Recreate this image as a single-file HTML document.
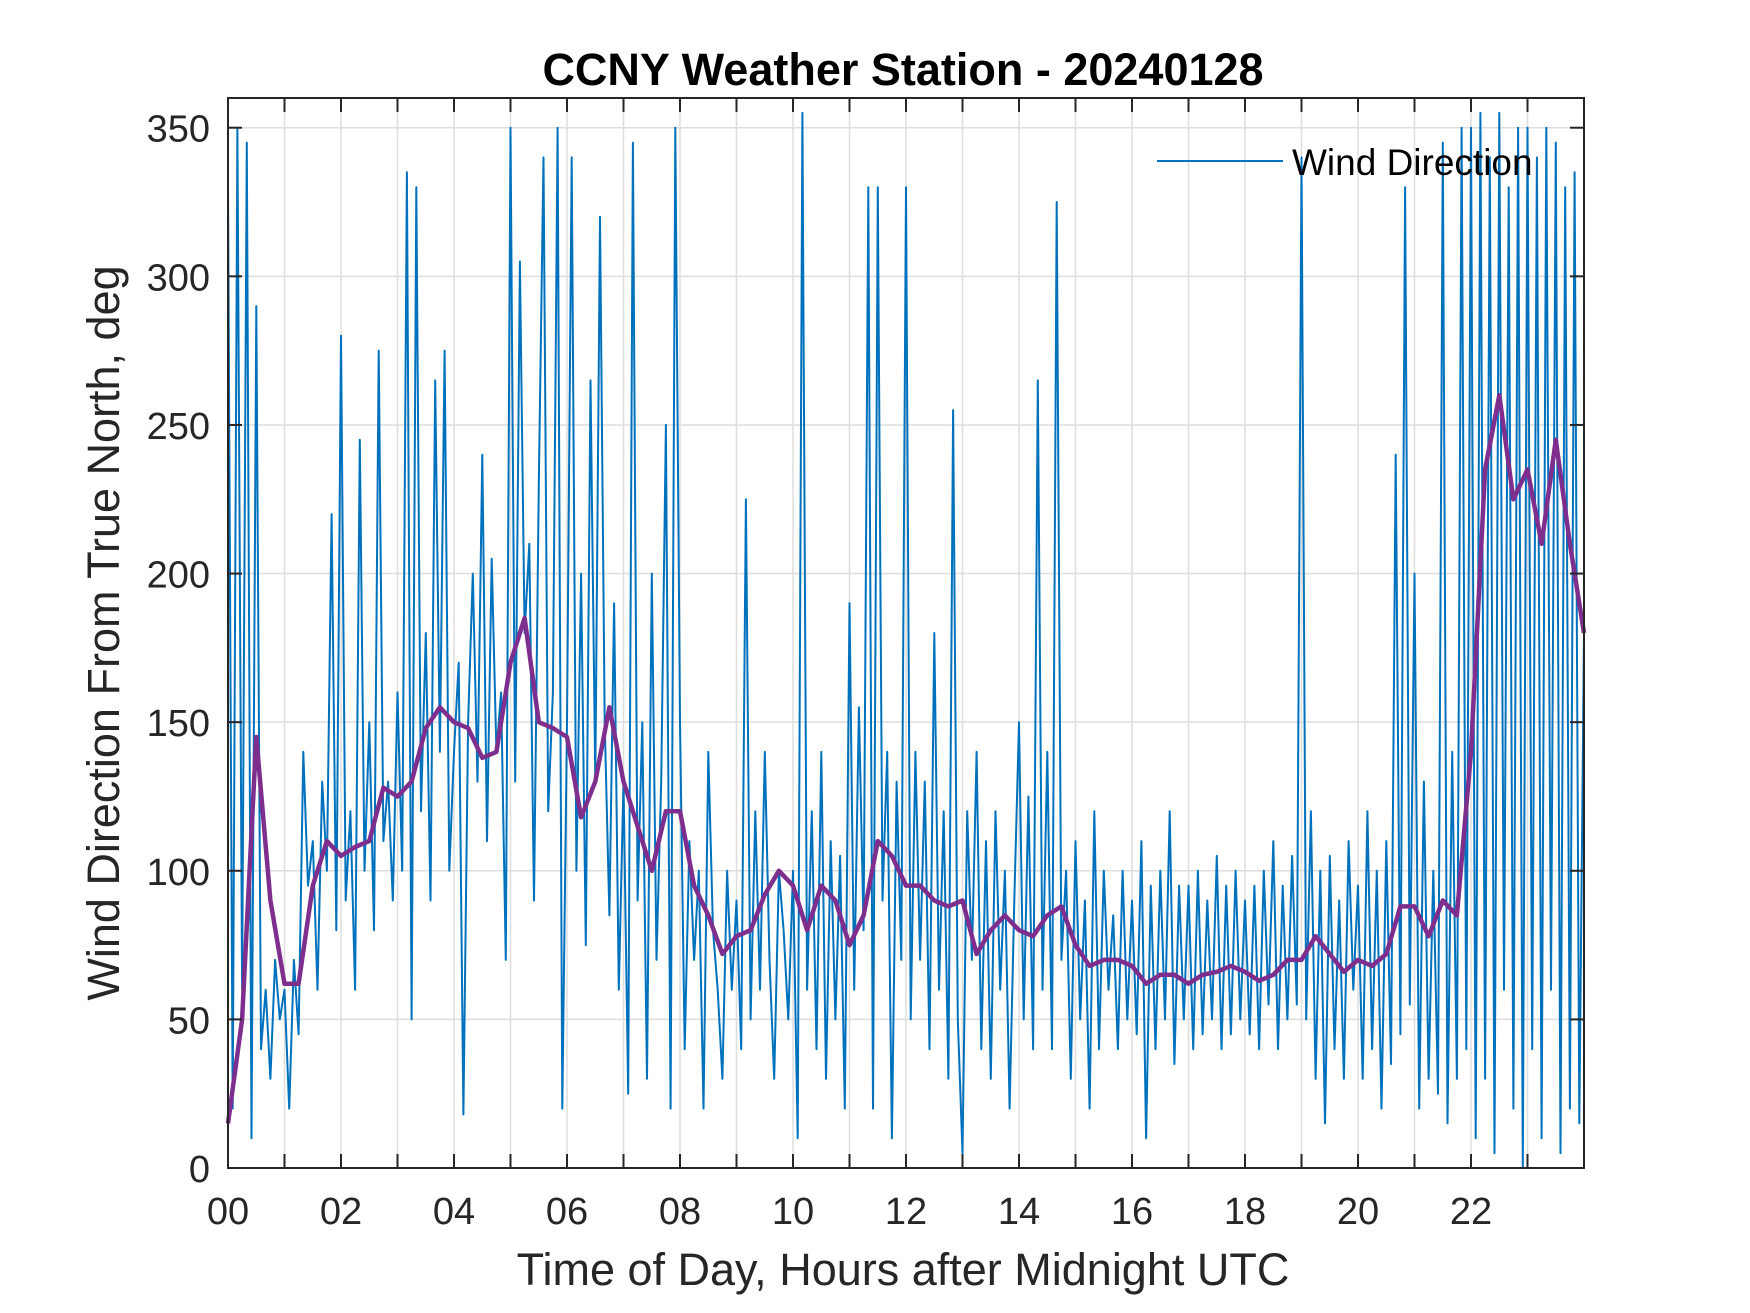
<!DOCTYPE html>
<html><head><meta charset="utf-8"><style>
html,body{margin:0;padding:0;background:#fff;}
svg{display:block;font-family:"Liberation Sans",Arial,sans-serif;}
</style></head><body>
<svg id="chart" width="1750" height="1313" viewBox="0 0 1750 1313">
<rect x="0" y="0" width="1750" height="1313" fill="#fff"/>
<text x="903" y="85" text-anchor="middle" font-size="45" font-weight="bold" fill="#000">CCNY Weather Station - 20240128</text>
<g id="grid"></g>
<g id="series"></g>
<g id="axes"></g>
<text x="903" y="1285" text-anchor="middle" font-size="45" fill="#262626">Time of Day, Hours after Midnight UTC</text>
<text transform="translate(119,633) rotate(-90)" text-anchor="middle" font-size="45" fill="#262626">Wind Direction From True North, deg</text>
<g>
<line x1="1157" y1="161" x2="1283" y2="161" stroke="#0072BD" stroke-width="2"/>
<text x="1292" y="175" font-size="37" fill="#000">Wind Direction</text>
</g>
</svg>
<script>
const xTickLabels = ["00","02","04","06","08","10","12","14","16","18","20","22"];
const yTickLabels = [0,50,100,150,200,250,300,350];
// raw wind direction, 5-minute samples, hour rows
const windRaw = [
330,20,350,60,345,10,290,40,60,30,70,50,
60,20,70,45,140,95,110,60,130,100,220,80,
280,90,120,60,245,100,150,80,275,110,130,90,
160,100,335,50,330,120,180,90,265,140,275,100,
140,170,18,150,200,130,240,110,205,140,160,70,
350,130,305,180,210,90,230,340,120,160,350,20,
150,340,100,200,75,265,130,320,150,85,190,60,
130,25,345,90,150,30,200,70,130,250,20,350,
150,40,110,70,100,20,140,80,60,30,100,60,
90,40,225,50,120,60,140,70,30,100,80,50,
100,10,355,60,120,40,140,30,110,50,105,20,
190,60,155,80,330,20,330,90,140,10,130,70,
330,50,140,70,130,40,180,60,120,30,255,50,
5,120,70,140,40,110,30,120,60,100,20,90,
150,50,125,40,265,60,140,40,325,70,100,30,
110,50,90,20,120,40,100,60,85,40,100,50,
90,45,110,10,95,40,100,50,120,35,95,50,
95,40,100,45,90,50,105,40,95,45,100,50,
90,45,95,40,100,55,110,40,95,50,105,55,
340,50,120,30,100,15,105,40,90,30,110,60,
95,30,120,40,100,20,110,35,240,45,330,55,
200,20,130,30,100,25,345,15,140,30,350,40,
350,10,355,30,340,5,355,60,330,20,350,0,
350,40,340,10,350,60,345,5,330,20,335,15,180];
// smoothed wind direction, 15-minute samples
const windSmooth = [15,50,145,90,62,62,95,110,105,108,110,128,125,130,148,155,150,148,138,140,170,185,150,148,145,118,130,155,130,115,100,120,120,95,85,72,78,80,92,100,95,80,95,90,75,85,110,105,95,95,90,88,90,72,80,85,80,78,85,88,75,68,70,70,68,62,65,65,62,65,66,68,66,63,65,70,70,78,72,66,70,68,72,88,88,78,90,85,140,235,260,225,235,210,245,210,180];

const L=228,R=1584,T=98,B=1168,XMAX=24,YMAX=360;
const xs=h=>L+(R-L)*h/XMAX;
const ys=v=>B-(B-T)*v/YMAX;
const NS="http://www.w3.org/2000/svg";
function mk(tag,attrs,parent){const e=document.createElementNS(NS,tag);for(const k in attrs)e.setAttribute(k,attrs[k]);parent.appendChild(e);return e;}
const grid=document.getElementById('grid'),series=document.getElementById('series'),axes=document.getElementById('axes');

for(let h=0;h<=24;h++){
  const g=mk('line',{x1:xs(h),x2:xs(h),y1:T,y2:B,stroke:'#dedede','stroke-width':1.5},grid);
  
  
}
yTickLabels.forEach(v=>{
  const g=mk('line',{x1:L,x2:R,y1:ys(v),y2:ys(v),stroke:'#dedede','stroke-width':1.5},grid);
  
  
});

let p='';
windRaw.forEach((v,i)=>{p+=(i?'L':'M')+xs(i*XMAX/(windRaw.length-1)).toFixed(1)+' '+ys(v).toFixed(1);});
const raw=mk('path',{d:p,fill:'none',stroke:'#0072BD','stroke-width':2,'stroke-linejoin':'round'},series);


p='';
windSmooth.forEach((v,i)=>{p+=(i?'L':'M')+xs(i*XMAX/(windSmooth.length-1)).toFixed(1)+' '+ys(v).toFixed(1);});
const sm=mk('path',{d:p,fill:'none',stroke:'#7E2F8E','stroke-width':4.5,'stroke-linejoin':'round'},series);



const box=mk('rect',{x:L,y:T,width:R-L,height:B-T,fill:'none',stroke:'#262626','stroke-width':2},axes);


for(let h=0;h<=24;h++){
  mk('line',{x1:xs(h),x2:xs(h),y1:B,y2:B-14,stroke:'#262626','stroke-width':2},axes);
  mk('line',{x1:xs(h),x2:xs(h),y1:T,y2:T+14,stroke:'#262626','stroke-width':2},axes);
}
xTickLabels.forEach((t,i)=>{
  const e=mk('text',{x:xs(i*2),y:1224,'text-anchor':'middle','font-size':38,fill:'#262626'},axes);
  e.textContent=t;
  
  
});
yTickLabels.forEach(v=>{
  mk('line',{x1:L,x2:L+14,y1:ys(v),y2:ys(v),stroke:'#262626','stroke-width':2},axes);
  mk('line',{x1:R,x2:R-14,y1:ys(v),y2:ys(v),stroke:'#262626','stroke-width':2},axes);
  const e=mk('text',{x:210,y:ys(v)+14,'text-anchor':'end','font-size':38,fill:'#262626'},axes);
  e.textContent=v;
  
  
});
</script>
</body></html>
